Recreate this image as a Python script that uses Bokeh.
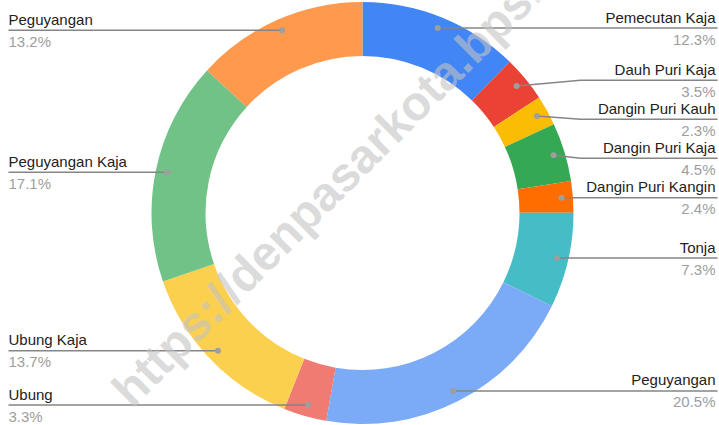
import math
from bokeh.plotting import figure
from bokeh.models import Range1d, ColumnDataSource
from bokeh.core.properties import value
from bokeh.embed import file_html
from bokeh.resources import INLINE

# ---- data ----
names = ["Pemecutan Kaja", "Dauh Puri Kaja", "Dangin Puri Kauh", "Dangin Puri Kaja",
         "Dangin Puri Kangin", "Tonja", "Peguyangan", "Ubung", "Ubung Kaja",
         "Peguyangan Kaja", "Peguyangan"]
shares = [12.3, 3.5, 2.3, 4.5, 2.4, 7.3, 20.5, 3.3, 13.7, 17.1, 13.2]
colors = ["#4285F4", "#EA4335", "#FBBC04", "#34A853", "#FF6D01", "#46BDC6",
          "#7BAAF7", "#F07B72", "#FCD04F", "#71C287", "#FF994D"]
watermark = "https://denpasarkota.bps.go.id"

# ---- layout (picture pixels) ----
W, H = 719, 425
def cx(xs): return xs
def cy(ys): return H - ys

CX, CY = 362.0, 212.5
R_OUT = 211.0
R_IN = 157.0
R_DOT = 199.6
GAP = 39.0
FONT = "Liberation Sans"
NAME_DY = -11
PCT_DY = 11

total = sum(shares)
starts, ends, mids = [], [], []
acc = 0.0
for v in shares:
    f0 = acc / total
    acc += v
    f1 = acc / total
    starts.append(math.pi / 2 - 2 * math.pi * f0)
    ends.append(math.pi / 2 - 2 * math.pi * f1)
    mids.append(2 * math.pi * (f0 + f1) / 2)  # clockwise from top

p = figure(width=W, height=H, output_backend="svg", toolbar_location=None,
           x_range=Range1d(0, W), y_range=Range1d(0, H), min_border=0)
p.axis.visible = False
p.grid.visible = False
p.outline_line_color = None
p.background_fill_color = "white"
p.border_fill_color = "white"

src = ColumnDataSource(dict(x=[cx(CX)] * len(shares), y=[cy(CY)] * len(shares),
                            s=starts, e=ends, c=colors))
p.annular_wedge(x="x", y="y", inner_radius=R_IN, outer_radius=R_OUT,
                inner_radius_units="screen", outer_radius_units="screen",
                start_angle="s", end_angle="e", direction="clock",
                fill_color="c", line_color=None, source=src)

dots = []
for m in mids:
    dots.append((CX + R_DOT * math.sin(m), CY - R_DOT * math.cos(m)))

def resolve(items):
    clusters = []
    def pos(c):
        n = len(c[0])
        return sum(c[1][k] - k * GAP for k in range(n)) / n
    for idx, y in items:
        clusters.append([[idx], [y]])
        while len(clusters) > 1:
            a, b = clusters[-2], clusters[-1]
            if pos(a) + len(a[0]) * GAP > pos(b):
                clusters = clusters[:-2] + [[a[0] + b[0], a[1] + b[1]]]
            else:
                break
    out = {}
    for c in clusters:
        top = pos(c)
        for k, idx in enumerate(c[0]):
            out[idx] = top + k * GAP
    return out

right = sorted([(i, dots[i][1]) for i in range(len(shares)) if mids[i] < math.pi], key=lambda t: t[1])
left = sorted([(i, dots[i][1]) for i in range(len(shares)) if mids[i] >= math.pi], key=lambda t: t[1])
ly = {}
ly.update(resolve(right))
ly.update(resolve(left))

line_xs, line_ys = [], []
tx_r, ty_r, tt_r, px_r, py_r, pt_r = [], [], [], [], [], []
tx_l, ty_l, tt_l, px_l, py_l, pt_l = [], [], [], [], [], []
RIGHT_END = 717.0
RIGHT_TEXT = 715.0
LEFT_END = 8.0
for i in range(len(shares)):
    dx, dy = dots[i]
    y = ly[i]
    is_right = mids[i] < math.pi
    if is_right:
        elbow = CX + R_OUT + 7
        end = RIGHT_END
    else:
        elbow = CX - R_OUT - 7
        end = LEFT_END
    if abs(y - dy) < 1.0:
        xs = [dx, end]; ys = [dy, dy]
    else:
        xs = [dx, elbow, end]; ys = [dy, y, y]
    line_xs.append([cx(v) for v in xs])
    line_ys.append([cy(v) for v in ys])
    pct = f"{shares[i]:.1f}%"
    if is_right:
        tx_r.append(cx(RIGHT_TEXT)); ty_r.append(cy(y + NAME_DY)); tt_r.append(names[i])
        px_r.append(cx(RIGHT_TEXT)); py_r.append(cy(y + PCT_DY)); pt_r.append(pct)
    else:
        tx_l.append(cx(LEFT_END)); ty_l.append(cy(y + NAME_DY)); tt_l.append(names[i])
        px_l.append(cx(LEFT_END)); py_l.append(cy(y + PCT_DY)); pt_l.append(pct)

p.multi_line(xs=line_xs, ys=line_ys, line_color="#858585", line_width=1.5)
p.scatter(x=[cx(d[0]) for d in dots], y=[cy(d[1]) for d in dots], size=6,
          fill_color="#9e9e9e", line_color=None)

common = dict(text_font=value(FONT), text_font_size="15px", text_baseline="alphabetic")
p.text(x=tx_r, y=ty_r, text=tt_r, text_align="right", text_color="#222222", **common)
p.text(x=px_r, y=py_r, text=pt_r, text_align="right", text_color="#9e9e9e", **common)
p.text(x=tx_l, y=ty_l, text=tt_l, text_align="left", text_color="#222222", **common)
p.text(x=px_l, y=py_l, text=pt_l, text_align="left", text_color="#9e9e9e", **common)

# watermark
p.text(x=[cx(120)], y=[cy(397)], text=[watermark], angle=math.pi / 4,
       text_font=value(FONT), text_font_size="48px", text_font_style="bold",
       text_color="#c4c4c4", text_alpha=0.6, text_align="left", text_baseline="alphabetic")

open("out.html", "w").write(file_html(p, INLINE))
